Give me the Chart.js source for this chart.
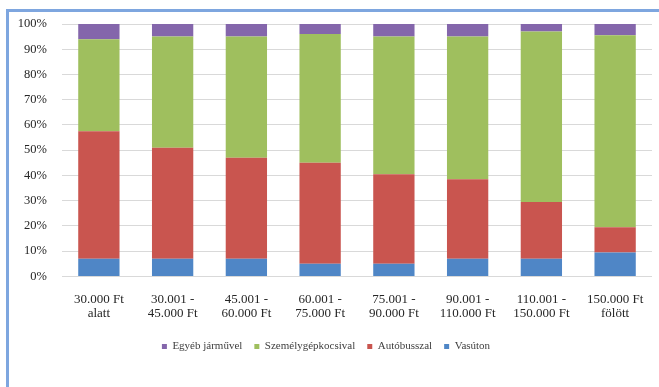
<!DOCTYPE html>
<html>
<head>
<meta charset="utf-8">
<script src="https://cdn.jsdelivr.net/npm/chart.js@4"></script>
<style>
  html, body { margin: 0; padding: 0; background: #fff; }
  .frame {
    position: absolute; left: 6px; top: 9px; width: 660px; height: 390px;
    border-left: 3px solid #7ea6df; border-top: 3px solid #7ea6df;
    box-sizing: border-box;
  }
  #chart { position: absolute; left: 0; top: 0; }
</style>
</head>
<body>
<div class="frame"></div>
<canvas id="chart" width="659" height="387"></canvas>
<script>
// ========================
// DATA
// ========================
const categories = [
  ["30.000 Ft", "alatt"],
  ["30.001 -", "45.000 Ft"],
  ["45.001 -", "60.000 Ft"],
  ["60.001 -", "75.000 Ft"],
  ["75.001 -", "90.000 Ft"],
  ["90.001 -", "110.000 Ft"],
  ["110.001 -", "150.000 Ft"],
  ["150.000 Ft", "fölött"]
];
const seriesNames = ["Vasúton", "Autóbusszal", "Személygépkocsival", "Egyéb járművel"];
const vasuton = [7, 7, 7, 5, 5, 7, 7, 9.5];
const autobusszal = [50.5, 44, 40, 40, 35.5, 31.5, 22.5, 10];
const szemelygepkocsival = [36.5, 44, 48, 51, 54.5, 56.5, 67.5, 76];
const egyeb = [6, 5, 5, 4, 5, 5, 3, 4.5];
const yTicks = [0, 10, 20, 30, 40, 50, 60, 70, 80, 90, 100];

const colors = ["#4f86c6", "#c9554f", "#9fbf5e", "#8466ab"];
const FONT = "'Liberation Serif', 'Times New Roman', serif";

// ========================
// CHART
// ========================
const ctx = document.getElementById("chart").getContext("2d");
new Chart(ctx, {
  type: "bar",
  data: {
    labels: categories,
    datasets: [vasuton, autobusszal, szemelygepkocsival, egyeb].map((d, i) => ({
      label: seriesNames[i],
      data: d,
      backgroundColor: colors[i],
      categoryPercentage: 1,
      barPercentage: 0.56
    }))
  },
  options: {
    responsive: false,
    animation: false,
    layout: { padding: { top: 24, right: 7, bottom: 25, left: 0 } },
    plugins: {
      legend: {
        position: "bottom",
        reverse: true,
        labels: {
          boxWidth: 5, boxHeight: 5, padding: 12,
          color: "#404040",
          font: { family: FONT, size: 11 }
        }
      },
      tooltip: { enabled: false }
    },
    scales: {
      x: {
        stacked: true,
        grid: { display: false },
        border: { display: false },
        ticks: {
          color: "#262626", maxRotation: 0, autoSkip: false, padding: 8,
          font: { family: FONT, size: 13, lineHeight: 1.1 }
        }
      },
      y: {
        stacked: true,
        min: 0, max: 100,
        afterFit: s => { s.width = 62; },
        afterBuildTicks: s => { s.ticks = yTicks.map(v => ({ value: v })); },
        grid: { color: "#d9d9d9", drawTicks: false },
        border: { display: false },
        ticks: {
          color: "#262626", padding: 15,
          font: { family: FONT, size: 12.5 },
          callback: v => v + "%"
        }
      }
    }
  }
});
</script>
</body>
</html>
